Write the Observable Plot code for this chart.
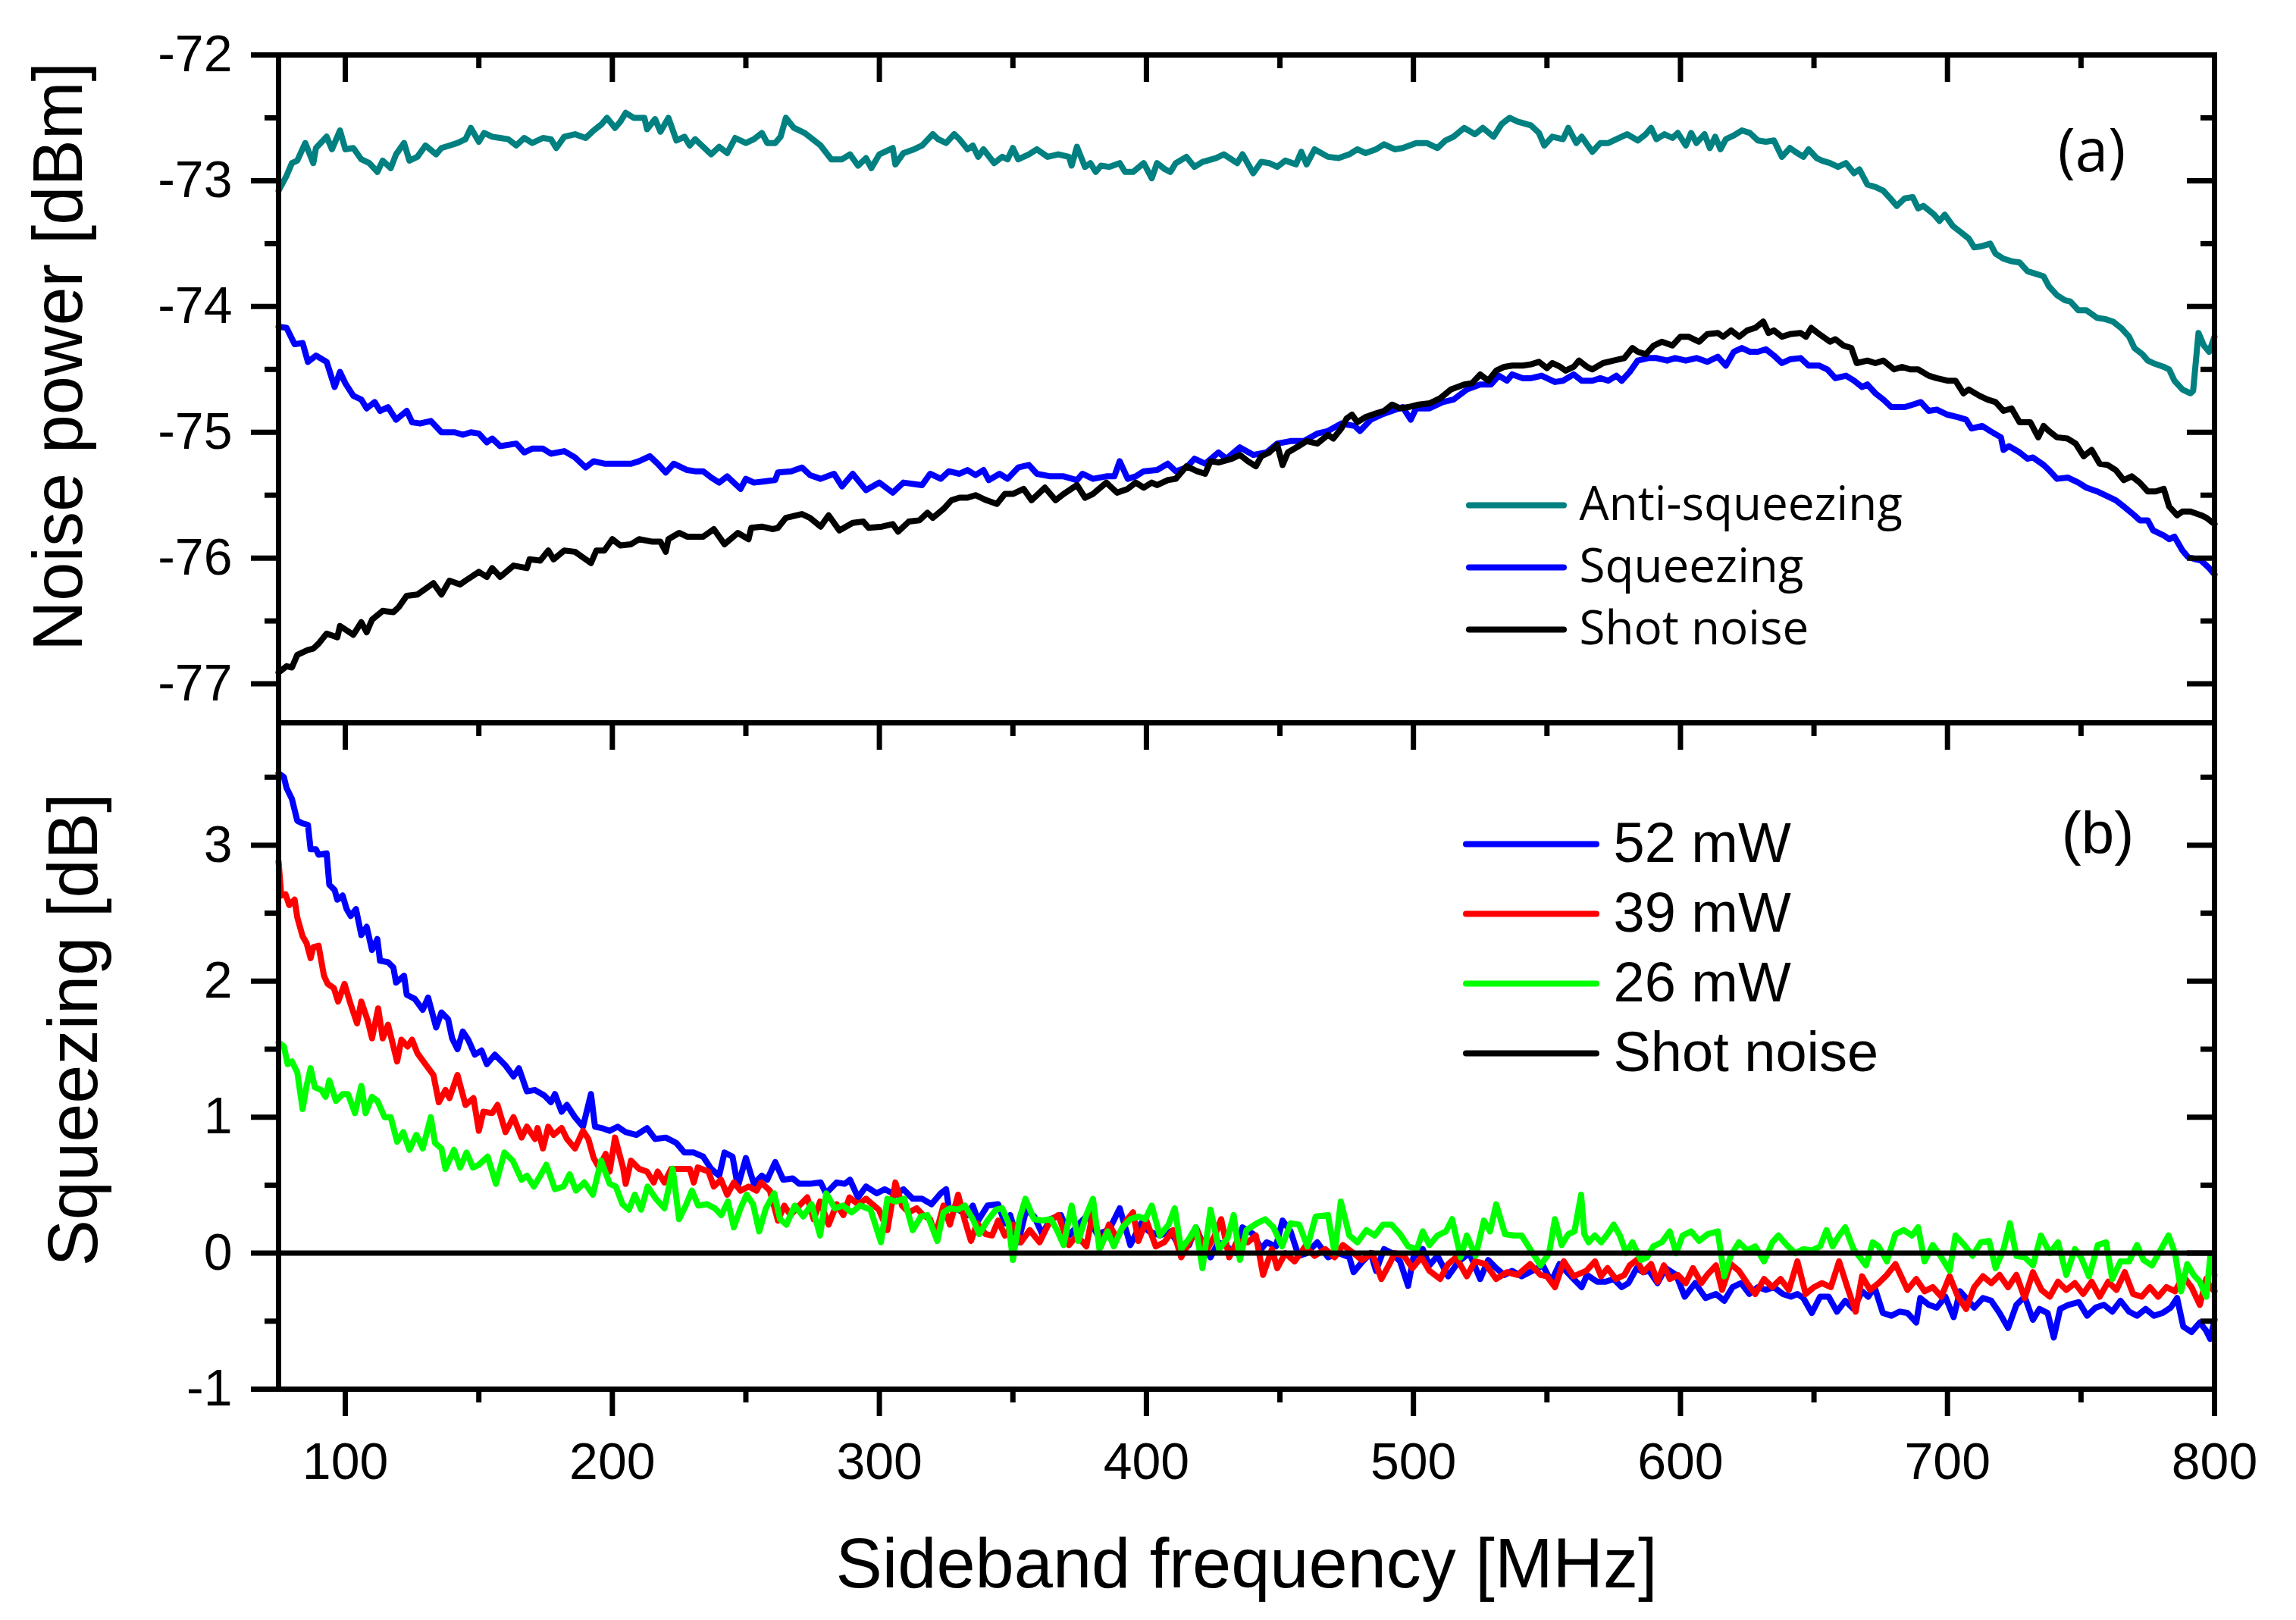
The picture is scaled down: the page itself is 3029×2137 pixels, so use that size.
<!DOCTYPE html>
<html><head><meta charset="utf-8">
<script src="https://cdn.jsdelivr.net/npm/d3@7"></script>
<script src="https://cdn.jsdelivr.net/npm/@observablehq/plot@0.6"></script>
<style>
html,body{margin:0;padding:0;background:#fff;overflow:hidden}
#chart{position:relative;width:3029px;height:2137px;background:#fff}
#chart > div{position:absolute;left:0}
</style></head><body><div id="chart"></div>
<script>
// ---------- data (frequency MHz, value) ----------
const antiSqueezing = [[75,-73.08],[78,-72.96],[80,-72.86],[82,-72.84],[85,-72.70],[88,-72.86],[89,-72.74],[93,-72.65],[95,-72.75],[98,-72.60],[100,-72.75],[103,-72.74],[106,-72.83],[109,-72.86],[112,-72.93],[114,-72.84],[117,-72.90],[119,-72.79],[122,-72.70],[124,-72.84],[127,-72.81],[130,-72.72],[134,-72.79],[136,-72.74],[139,-72.72],[142,-72.70],[145,-72.67],[147,-72.58],[150,-72.69],[152,-72.62],[155,-72.65],[158,-72.66],[161,-72.67],[164,-72.72],[167,-72.66],[170,-72.70],[174,-72.66],[177,-72.67],[179,-72.74],[182,-72.65],[186,-72.63],[190,-72.66],[193,-72.60],[196,-72.55],[198,-72.50],[201,-72.58],[203,-72.53],[205,-72.46],[208,-72.50],[212,-72.50],[213,-72.59],[216,-72.51],[218,-72.61],[221,-72.50],[224,-72.68],[227,-72.65],[229,-72.72],[231,-72.67],[234,-72.73],[237,-72.79],[240,-72.73],[243,-72.78],[246,-72.66],[250,-72.70],[253,-72.67],[256,-72.62],[258,-72.70],[261,-72.70],[263,-72.65],[265,-72.50],[268,-72.58],[272,-72.62],[275,-72.67],[278,-72.72],[282,-72.83],[286,-72.83],[289,-72.79],[292,-72.88],[295,-72.82],[297,-72.90],[300,-72.79],[305,-72.74],[306,-72.87],[309,-72.78],[313,-72.75],[316,-72.72],[320,-72.63],[322,-72.67],[325,-72.70],[328,-72.63],[330,-72.67],[333,-72.75],[335,-72.72],[337,-72.81],[339,-72.75],[343,-72.86],[346,-72.81],[348,-72.83],[350,-72.74],[352,-72.83],[356,-72.79],[359,-72.75],[363,-72.81],[367,-72.79],[371,-72.81],[372,-72.88],[374,-72.73],[377,-72.89],[379,-72.86],[381,-72.93],[383,-72.88],[386,-72.89],[390,-72.86],[392,-72.93],[395,-72.93],[399,-72.86],[402,-72.98],[404,-72.86],[407,-72.91],[409,-72.93],[411,-72.86],[415,-72.81],[418,-72.89],[421,-72.85],[426,-72.82],[429,-72.79],[434,-72.86],[436,-72.79],[440,-72.94],[443,-72.85],[446,-72.86],[449,-72.89],[452,-72.84],[456,-72.87],[458,-72.77],[460,-72.87],[463,-72.75],[468,-72.81],[472,-72.82],[476,-72.79],[479,-72.75],[482,-72.78],[486,-72.75],[489,-72.71],[493,-72.75],[496,-72.74],[501,-72.70],[505,-72.70],[509,-72.74],[512,-72.68],[515,-72.65],[519,-72.58],[523,-72.63],[526,-72.58],[530,-72.65],[533,-72.55],[536,-72.50],[539,-72.53],[544,-72.56],[547,-72.62],[549,-72.72],[552,-72.65],[556,-72.67],[558,-72.58],[561,-72.70],[563,-72.65],[567,-72.77],[570,-72.70],[573,-72.70],[576,-72.67],[580,-72.63],[584,-72.68],[587,-72.63],[589,-72.58],[591,-72.67],[594,-72.63],[597,-72.66],[599,-72.62],[602,-72.72],[604,-72.62],[606,-72.70],[609,-72.63],[611,-72.74],[613,-72.65],[615,-72.75],[617,-72.67],[620,-72.64],[623,-72.60],[626,-72.62],[629,-72.68],[632,-72.69],[635,-72.68],[638,-72.81],[641,-72.74],[643,-72.77],[646,-72.81],[648,-72.75],[651,-72.82],[653,-72.84],[656,-72.86],[659,-72.89],[662,-72.86],[665,-72.94],[667,-72.91],[670,-73.03],[673,-73.05],[676,-73.08],[679,-73.15],[681,-73.20],[684,-73.14],[687,-73.13],[689,-73.22],[691,-73.20],[695,-73.27],[697,-73.32],[699,-73.27],[702,-73.36],[705,-73.41],[708,-73.46],[710,-73.53],[713,-73.52],[716,-73.50],[718,-73.58],[721,-73.62],[724,-73.64],[727,-73.65],[730,-73.72],[733,-73.74],[736,-73.76],[738,-73.84],[741,-73.91],[744,-73.95],[746,-73.96],[749,-74.03],[752,-74.03],[756,-74.09],[759,-74.10],[762,-74.12],[765,-74.17],[768,-74.24],[770,-74.33],[773,-74.38],[775,-74.43],[777,-74.45],[781,-74.48],[783,-74.50],[785,-74.59],[788,-74.66],[791,-74.69],[792,-74.67],[794,-74.21],[796,-74.31],[798,-74.36],[800,-74.24]];

const squeezingA = [[75,-74.16],[78,-74.17],[81,-74.30],[84,-74.29],[86,-74.44],[89,-74.39],[93,-74.44],[96,-74.64],[98,-74.52],[100,-74.61],[103,-74.71],[106,-74.74],[108,-74.81],[111,-74.76],[113,-74.83],[116,-74.80],[119,-74.90],[123,-74.83],[125,-74.92],[128,-74.93],[132,-74.91],[136,-75.00],[141,-75.00],[144,-75.02],[147,-75.00],[150,-75.01],[153,-75.08],[155,-75.05],[158,-75.11],[164,-75.09],[167,-75.16],[170,-75.13],[174,-75.13],[177,-75.17],[182,-75.15],[186,-75.20],[190,-75.28],[193,-75.23],[197,-75.25],[202,-75.25],[207,-75.25],[210,-75.23],[214,-75.19],[217,-75.25],[220,-75.32],[223,-75.25],[228,-75.30],[231,-75.31],[234,-75.31],[237,-75.36],[240,-75.40],[243,-75.35],[248,-75.45],[250,-75.37],[253,-75.40],[257,-75.39],[261,-75.38],[262,-75.32],[267,-75.31],[271,-75.28],[274,-75.34],[278,-75.37],[283,-75.33],[286,-75.43],[290,-75.33],[295,-75.46],[300,-75.40],[305,-75.48],[309,-75.40],[316,-75.42],[319,-75.33],[323,-75.37],[326,-75.31],[330,-75.33],[333,-75.30],[336,-75.34],[339,-75.30],[341,-75.38],[345,-75.33],[348,-75.37],[352,-75.28],[356,-75.26],[359,-75.33],[364,-75.35],[369,-75.35],[374,-75.38],[376,-75.33],[380,-75.37],[385,-75.35],[388,-75.35],[390,-75.23],[393,-75.37],[396,-75.35],[399,-75.31],[404,-75.30],[408,-75.25],[411,-75.31],[415,-75.28],[418,-75.21],[422,-75.25],[427,-75.16],[430,-75.21],[435,-75.12],[440,-75.18],[445,-75.16],[449,-75.09],[454,-75.07],[459,-75.07],[464,-75.01],[468,-74.99],[473,-74.93],[478,-74.95],[480,-74.99],[484,-74.90],[488,-74.86],[492,-74.83],[496,-74.80],[499,-74.90],[501,-74.81],[506,-74.81],[511,-74.76],[515,-74.74],[520,-74.66],[525,-74.62],[529,-74.62],[532,-74.55],[535,-74.59],[537,-74.54],[541,-74.57],[544,-74.57],[548,-74.55],[553,-74.60],[556,-74.59],[560,-74.54],[563,-74.59],[567,-74.59],[570,-74.57],[573,-74.59],[576,-74.55],[578,-74.59],[581,-74.52],[584,-74.43],[588,-74.41],[591,-74.41],[595,-74.43],[598,-74.41],[602,-74.43],[606,-74.41],[610,-74.44],[614,-74.40],[617,-74.47],[620,-74.36],[623,-74.33],[626,-74.36],[629,-74.36],[632,-74.34],[635,-74.39],[638,-74.45],[641,-74.42],[645,-74.41],[648,-74.47],[652,-74.47],[655,-74.50],[658,-74.57],[662,-74.55],[665,-74.59],[668,-74.64],[670,-74.62],[673,-74.69],[676,-74.74],[679,-74.80],[684,-74.80],[687,-74.78],[690,-74.76],[693,-74.83],[696,-74.82],[700,-74.86],[704,-74.88],[707,-74.90],[709,-74.97],[713,-74.95],[716,-74.99],[720,-75.04],[721,-75.14],[723,-75.11],[727,-75.16],[730,-75.21],[732,-75.20],[736,-75.26],[738,-75.30],[741,-75.37],[745,-75.36],[749,-75.40],[752,-75.44],[756,-75.47],[759,-75.50],[763,-75.54],[766,-75.59],[770,-75.66],[772,-75.70],[775,-75.70],[777,-75.78],[781,-75.82],[783,-75.85],[785,-75.83],[788,-75.94],[790,-75.99],[793,-76.01],[795,-76.02],[798,-76.08],[800,-76.13]];

const shotNoiseA = [[75,-76.91],[78,-76.86],[80,-76.87],[82,-76.77],[86,-76.73],[88,-76.72],[90,-76.68],[93,-76.60],[97,-76.63],[98,-76.54],[103,-76.61],[106,-76.51],[108,-76.59],[110,-76.49],[114,-76.42],[118,-76.43],[120,-76.39],[123,-76.30],[127,-76.29],[133,-76.20],[136,-76.29],[139,-76.18],[143,-76.21],[145,-76.18],[150,-76.11],[153,-76.15],[155,-76.08],[158,-76.15],[163,-76.06],[168,-76.08],[169,-76.01],[173,-76.02],[176,-75.94],[178,-76.01],[182,-75.94],[186,-75.95],[192,-76.04],[194,-75.94],[197,-75.94],[200,-75.85],[203,-75.90],[207,-75.89],[210,-75.85],[215,-75.87],[218,-75.87],[220,-75.95],[221,-75.85],[225,-75.80],[228,-75.83],[234,-75.83],[238,-75.77],[242,-75.89],[247,-75.80],[251,-75.85],[252,-75.76],[256,-75.75],[260,-75.77],[262,-75.76],[265,-75.68],[271,-75.65],[274,-75.68],[278,-75.75],[281,-75.66],[285,-75.78],[290,-75.72],[294,-75.71],[296,-75.76],[301,-75.75],[305,-75.73],[307,-75.79],[311,-75.71],[315,-75.70],[318,-75.64],[320,-75.68],[324,-75.61],[327,-75.54],[330,-75.52],[333,-75.52],[336,-75.50],[340,-75.54],[344,-75.57],[347,-75.49],[350,-75.49],[354,-75.45],[357,-75.54],[362,-75.44],[366,-75.54],[369,-75.49],[374,-75.42],[377,-75.52],[380,-75.49],[385,-75.40],[389,-75.48],[393,-75.45],[396,-75.40],[399,-75.44],[402,-75.40],[404,-75.42],[408,-75.38],[411,-75.37],[415,-75.27],[419,-75.31],[422,-75.33],[424,-75.23],[427,-75.24],[432,-75.21],[435,-75.18],[438,-75.23],[441,-75.27],[443,-75.19],[446,-75.16],[449,-75.10],[451,-75.26],[453,-75.16],[457,-75.11],[460,-75.07],[464,-75.09],[468,-75.02],[470,-75.05],[473,-74.97],[475,-74.89],[477,-74.86],[479,-74.92],[482,-74.88],[486,-74.85],[489,-74.83],[492,-74.78],[495,-74.81],[498,-74.80],[502,-74.78],[506,-74.77],[510,-74.73],[514,-74.66],[519,-74.62],[522,-74.61],[525,-74.54],[528,-74.59],[531,-74.51],[534,-74.48],[537,-74.47],[541,-74.47],[544,-74.46],[547,-74.44],[550,-74.49],[552,-74.45],[555,-74.48],[557,-74.51],[560,-74.48],[562,-74.43],[565,-74.48],[567,-74.50],[571,-74.45],[575,-74.43],[579,-74.41],[582,-74.33],[584,-74.36],[587,-74.38],[590,-74.31],[593,-74.28],[597,-74.31],[600,-74.24],[603,-74.24],[607,-74.28],[610,-74.22],[614,-74.21],[616,-74.24],[619,-74.19],[622,-74.24],[625,-74.19],[628,-74.17],[631,-74.12],[633,-74.21],[635,-74.19],[638,-74.24],[641,-74.22],[645,-74.21],[647,-74.24],[649,-74.17],[652,-74.22],[656,-74.28],[658,-74.26],[661,-74.31],[664,-74.33],[666,-74.45],[670,-74.43],[673,-74.45],[676,-74.43],[680,-74.50],[683,-74.48],[686,-74.50],[689,-74.50],[693,-74.55],[696,-74.57],[700,-74.59],[703,-74.59],[706,-74.69],[708,-74.66],[712,-74.71],[715,-74.74],[718,-74.76],[721,-74.83],[724,-74.81],[727,-74.92],[731,-74.92],[734,-75.04],[736,-74.95],[738,-74.99],[741,-75.04],[745,-75.05],[748,-75.09],[751,-75.19],[754,-75.14],[757,-75.25],[760,-75.26],[763,-75.30],[766,-75.38],[769,-75.35],[772,-75.40],[775,-75.47],[778,-75.47],[781,-75.45],[783,-75.59],[786,-75.66],[788,-75.63],[791,-75.63],[795,-75.66],[797,-75.68],[800,-75.73]];

const pump52 = [[75,3.53],[77,3.50],[78,3.42],[80,3.34],[81,3.26],[82,3.18],[84,3.16],[86,3.15],[87,2.97],[89,2.97],[90,2.93],[93,2.94],[94,2.71],[96,2.67],[97,2.60],[99,2.63],[100.5,2.53],[102,2.48],[104,2.53],[106,2.34],[108,2.40],[110,2.23],[112,2.31],[113,2.15],[116,2.14],[118,2.10],[119,1.99],[122,2.04],[123,1.90],[126,1.87],[129,1.79],[131,1.88],[134,1.66],[136,1.77],[138.5,1.72],[140,1.58],[142,1.50],[144,1.63],[146,1.57],[148.5,1.46],[151,1.49],[153,1.39],[156,1.46],[160,1.38],[163,1.30],[165,1.36],[168,1.19],[171,1.20],[174.5,1.16],[177,1.11],[178.5,1.17],[181,1.04],[183,1.09],[186,1.00],[189,0.93],[192,1.17],[193.5,0.93],[196,0.92],[199,0.90],[202,0.93],[205,0.89],[209,0.87],[213,0.92],[216,0.84],[220,0.85],[224,0.81],[227,0.74],[230.5,0.74],[234,0.71],[237,0.62],[240,0.57],[242,0.74],[245,0.71],[247,0.49],[250,0.70],[253,0.51],[256,0.57],[258,0.54],[261,0.67],[264,0.54],[267.5,0.55],[270,0.51],[274,0.51],[278,0.52],[280,0.44],[284,0.52],[287,0.51],[289,0.54],[292,0.41],[295,0.49],[299,0.44],[302,0.47],[306,0.43],[309,0.47],[312.5,0.40],[316,0.40],[319.5,0.36],[323,0.44],[325,0.47],[326,0.33],[329.5,0.32],[333,0.28],[335,0.35],[337,0.24],[340.5,0.35],[344.5,0.36],[347,0.22],[349,0.28],[352,0.08],[355,0.32],[358,0.27],[361,0.14],[364,0.25],[368,0.28],[371,0.13],[375,0.22],[378,0.28],[381.5,0.14],[386,0.17],[390,0.33],[394,0.06],[398,0.22],[401,0.16],[405,0.13],[409,0.16],[413,0.03],[416,0.06],[418.5,0.19],[421.6,0.05],[424,-0.03],[427,0.08],[430,0.05],[433.5,0.00],[436,0.19],[440,0.14],[443,0.03],[445,0.08],[448.5,0.05],[451,0.24],[454,0.16],[457,-0.02],[460,0.00],[464,0.08],[468,-0.03],[472,0.00],[476,-0.03],[477.6,-0.14],[481,-0.06],[484,0.00],[486,-0.13],[489,0.03],[492,0.00],[495,-0.06],[498,-0.24],[500,-0.03],[503.5,0.03],[506,-0.09],[509,-0.02],[513,-0.17],[517,-0.06],[521,0.00],[525,-0.19],[528,-0.05],[531,-0.11],[534,-0.16],[537,-0.13],[540.5,-0.17],[544.5,-0.13],[548.5,-0.09],[551.6,-0.21],[554.7,-0.08],[559,-0.17],[563,-0.25],[565,-0.16],[568.8,-0.21],[572,-0.21],[575,-0.19],[578,-0.25],[580.5,-0.22],[583.6,-0.11],[586,-0.14],[588.3,-0.13],[591.4,-0.22],[594.5,-0.11],[598.4,-0.16],[601.6,-0.32],[605.5,-0.22],[609.4,-0.33],[613.3,-0.30],[616.4,-0.35],[619.5,-0.25],[622.7,-0.22],[625.8,-0.30],[629,-0.25],[632,-0.27],[635,-0.25],[638.3,-0.30],[641.4,-0.32],[643.8,-0.30],[646,-0.33],[649.2,-0.44],[652.3,-0.32],[655.5,-0.32],[658.6,-0.43],[661.7,-0.35],[664.8,-0.41],[668,-0.28],[670.3,-0.32],[672.7,-0.25],[675.8,-0.44],[679,-0.46],[682,-0.43],[685,-0.44],[688.3,-0.51],[689.8,-0.33],[693,-0.38],[696,-0.40],[699.2,-0.32],[702.3,-0.47],[704.7,-0.28],[707,-0.33],[710,-0.40],[713.3,-0.33],[716.4,-0.35],[719.5,-0.44],[722.7,-0.55],[725.8,-0.38],[728.9,-0.32],[732,-0.49],[734.4,-0.41],[737.5,-0.44],[739.8,-0.62],[742.2,-0.41],[745.3,-0.38],[749.2,-0.36],[752.3,-0.46],[755.5,-0.40],[758.6,-0.38],[761.7,-0.43],[764.8,-0.35],[768,-0.43],[771,-0.46],[774.2,-0.41],[777.3,-0.46],[780.5,-0.44],[783.6,-0.40],[786,-0.33],[788.3,-0.54],[791.4,-0.58],[794.5,-0.51],[796.9,-0.57],[798.4,-0.63],[800,-0.49]];

const pump39 = [[75,2.88],[76,2.63],[77.6,2.64],[79,2.56],[81,2.60],[82,2.47],[84,2.33],[85.5,2.28],[87,2.17],[88,2.25],[90,2.26],[92,2.04],[93.4,1.98],[95.7,1.95],[97.3,1.85],[99.7,1.98],[102,1.83],[104.4,1.69],[106,1.85],[108.4,1.71],[110,1.58],[112.3,1.80],[114,1.58],[116,1.68],[119.4,1.41],[121,1.57],[123.3,1.52],[125,1.57],[127,1.47],[130,1.39],[133,1.31],[135,1.11],[137.5,1.20],[139,1.14],[142,1.31],[145,1.09],[148,1.14],[150,0.90],[151.7,1.04],[155,1.03],[157,1.09],[160,0.89],[163,1.00],[166,0.85],[168,0.93],[171,0.84],[172,0.92],[174,0.77],[176,0.93],[178,0.87],[181,0.92],[183,0.84],[186,0.77],[189,0.90],[191,0.84],[193,0.70],[195,0.63],[197.5,0.73],[199,0.60],[201,0.85],[204,0.63],[205,0.51],[207,0.68],[210,0.62],[213,0.60],[215.5,0.52],[217,0.60],[219.5,0.52],[222,0.62],[226,0.62],[229,0.62],[230.5,0.52],[232,0.63],[236,0.60],[238,0.49],[240.7,0.54],[243,0.43],[245.5,0.52],[248,0.46],[251,0.49],[254,0.46],[255.7,0.52],[259,0.46],[262,0.24],[264.4,0.35],[266.7,0.28],[270,0.35],[273,0.41],[275.4,0.25],[277.8,0.38],[281,0.21],[284,0.36],[286.5,0.28],[288.8,0.41],[292,0.36],[295,0.40],[299.8,0.32],[303,0.17],[306,0.52],[308.5,0.35],[311,0.30],[314,0.33],[316.4,0.28],[319,0.25],[321,0.13],[324,0.35],[326.4,0.21],[329.5,0.43],[332,0.24],[334.3,0.09],[336.6,0.22],[339.8,0.14],[342.2,0.13],[344.5,0.24],[347,0.13],[350,0.21],[353,0.08],[356.3,0.17],[360,0.08],[364,0.24],[367,0.28],[371,0.06],[374,0.13],[377.5,0.05],[380,0.30],[383,0.05],[386,0.21],[389,0.11],[392.5,0.24],[395,0.30],[397,0.09],[400,0.24],[403.5,0.05],[406.7,0.08],[410,0.17],[413,-0.03],[416,0.08],[419,0.17],[422,0.00],[425.6,0.13],[428,0.25],[431,-0.03],[434,0.09],[438,0.08],[441,0.13],[443.7,-0.16],[447,0.03],[449,-0.11],[452,0.00],[455.5,-0.06],[459.5,0.05],[463,-0.02],[467,0.03],[470.5,-0.03],[473.6,0.06],[477.6,0.00],[480.7,-0.05],[484.6,0.00],[488,-0.19],[491,-0.08],[493,0.00],[496.5,-0.02],[499.6,-0.11],[503,-0.03],[506,-0.13],[510,-0.19],[513,-0.08],[516,-0.03],[520,-0.17],[523,-0.06],[527,-0.08],[531,-0.19],[535,-0.14],[539,-0.16],[543.7,-0.08],[547.6,-0.16],[550,-0.17],[553,-0.25],[556.3,-0.06],[560,-0.17],[564.7,-0.13],[568,-0.06],[570.3,-0.17],[572.7,-0.11],[575.8,-0.19],[579,-0.16],[581,-0.09],[583.6,-0.05],[586,-0.14],[589,-0.08],[591.4,-0.21],[593.8,-0.09],[596,-0.19],[599,-0.16],[602,-0.22],[604.7,-0.11],[607.8,-0.22],[610,-0.16],[613.3,-0.09],[615.6,-0.27],[618.8,-0.08],[621.9,-0.13],[625,-0.22],[628,-0.30],[631.3,-0.19],[634.4,-0.25],[637.5,-0.19],[640.6,-0.27],[643.8,-0.06],[646.9,-0.30],[650,-0.25],[653,-0.22],[656.3,-0.25],[659.4,-0.06],[662.5,-0.25],[665.6,-0.43],[668,-0.17],[671,-0.27],[674.2,-0.22],[677.3,-0.16],[680.5,-0.08],[683.6,-0.21],[685,-0.27],[688.3,-0.19],[691.4,-0.28],[694.5,-0.25],[697.7,-0.32],[700.8,-0.17],[703.9,-0.32],[707,-0.41],[710,-0.25],[713.3,-0.17],[716.4,-0.22],[719.5,-0.16],[722.7,-0.25],[725.8,-0.16],[728.9,-0.33],[732,-0.14],[735.2,-0.27],[738.3,-0.32],[741.4,-0.21],[744.5,-0.27],[747.7,-0.22],[750.8,-0.30],[754,-0.21],[757,-0.32],[760.2,-0.21],[763.3,-0.27],[766.4,-0.14],[769.5,-0.30],[772.7,-0.32],[775.8,-0.25],[778.9,-0.32],[782,-0.25],[785.2,-0.28],[788.3,-0.17],[791.4,-0.25],[794.5,-0.38],[796.9,-0.19],[798.4,-0.25],[800,-0.28]];

const pump26 = [[75,1.55],[77,1.52],[78.4,1.39],[80,1.41],[82,1.33],[84,1.06],[85.5,1.23],[87,1.36],[88.6,1.22],[91,1.20],[92.6,1.15],[94,1.27],[96.5,1.12],[99,1.17],[101,1.17],[103.6,1.03],[106,1.23],[107.6,1.03],[110,1.15],[112,1.12],[114.7,1.00],[117,1.00],[119.4,0.82],[121.7,0.89],[124,0.76],[126.6,0.87],[129,0.77],[132,1.00],[133.6,0.81],[136,0.77],[137.5,0.62],[140.7,0.76],[143,0.63],[145.4,0.74],[147.8,0.63],[150,0.65],[153.3,0.71],[156.4,0.51],[159.6,0.74],[162.7,0.68],[166,0.54],[168,0.57],[170.6,0.49],[173,0.57],[175.3,0.65],[178.5,0.47],[181.7,0.49],[184,0.58],[186.4,0.46],[189.5,0.52],[192.7,0.43],[195.8,0.68],[199,0.51],[201.3,0.49],[203.8,0.36],[206.2,0.32],[208.4,0.43],[210.8,0.32],[213.2,0.49],[216.3,0.40],[219.5,0.33],[222.6,0.62],[225,0.25],[227.5,0.35],[229.8,0.46],[232.2,0.35],[235.4,0.36],[238.4,0.33],[240.8,0.28],[243.3,0.38],[245.5,0.19],[248,0.33],[250.3,0.43],[252.7,0.36],[255,0.16],[257.5,0.33],[260.6,0.44],[262.8,0.25],[265.2,0.21],[268.3,0.35],[271.5,0.27],[274.6,0.36],[277.8,0.13],[280.1,0.44],[283.3,0.33],[286.4,0.35],[289.6,0.30],[292.8,0.35],[296.7,0.32],[300.6,0.08],[303,0.40],[306.1,0.38],[309.3,0.40],[312.5,0.17],[315.6,0.27],[318,0.28],[321.7,0.09],[324,0.30],[326.4,0.33],[329.5,0.32],[332,0.35],[335,0.25],[337.4,0.14],[340.5,0.24],[343.7,0.32],[346,0.33],[348.4,0.22],[350,-0.05],[352.4,0.25],[354.7,0.40],[357.9,0.25],[361,0.24],[364.2,0.25],[366.5,0.17],[369,0.06],[372,0.35],[374.5,0.09],[377.5,0.28],[380,0.40],[382.4,0.03],[385.5,0.16],[387.8,0.05],[391,0.19],[394,0.25],[397.2,0.27],[399.6,0.25],[402,0.35],[405,0.13],[408.3,0.21],[410.6,0.33],[413,0.03],[416.1,0.11],[418.5,0.19],[421,-0.11],[424,0.32],[427.2,0.03],[430.4,0.11],[432.7,0.28],[435,-0.05],[437.5,0.17],[441.4,0.22],[444.5,0.25],[447.6,0.19],[450.8,0.05],[454,0.22],[457.2,0.21],[460.3,0.05],[463.4,0.27],[468,0.28],[470.5,0.00],[472.8,0.38],[476,0.13],[479,0.08],[482.4,0.17],[485.5,0.13],[488.6,0.21],[491.8,0.21],[495,0.14],[498,0.05],[501.3,0.03],[503.5,0.16],[506,0.06],[509,0.13],[512.2,0.16],[514.5,0.25],[517.7,-0.03],[520,0.13],[523.3,-0.02],[526.4,0.24],[528.7,0.16],[531,0.36],[534.3,0.14],[537.4,0.13],[540.5,0.13],[543.7,0.03],[547.6,-0.09],[550.8,0.00],[553,0.25],[555.5,0.06],[558,0.14],[560.3,0.16],[562.8,0.43],[564,0.14],[565.6,0.08],[567.9,0.13],[570.3,0.08],[572.7,0.14],[575,0.21],[577.3,0.13],[579.7,0.00],[582,0.08],[585.2,-0.05],[587.5,-0.03],[589.8,0.05],[593,0.08],[596,0.16],[598.4,0.00],[600.8,0.13],[604,0.16],[607,0.09],[610.2,0.14],[614,0.16],[616.4,-0.17],[618.8,-0.02],[621.9,0.08],[625,0.02],[628,0.05],[631.3,-0.06],[634.4,0.08],[636.7,0.13],[639.8,0.06],[643,0.00],[646,0.03],[649.2,0.02],[652.3,0.05],[654.7,0.17],[657,0.05],[659.4,0.13],[661.7,0.19],[664.8,0.03],[667.2,-0.03],[669.5,-0.09],[672,0.08],[674.2,0.05],[677.3,-0.06],[680.5,0.14],[683.6,0.17],[686.7,0.13],[689,0.19],[691.4,-0.06],[694.5,0.06],[697.7,-0.03],[700.8,-0.13],[703,0.13],[706.3,0.06],[709.4,-0.02],[712.5,0.08],[715.6,0.09],[718,-0.11],[721,0.03],[723.4,0.22],[725.8,-0.02],[728.9,-0.03],[732,-0.09],[735,0.13],[738.3,0.00],[741.4,0.08],[744.5,-0.16],[747.7,0.03],[750,-0.03],[753,-0.17],[756.3,0.06],[759.4,0.08],[761.7,-0.19],[764.8,-0.06],[768,-0.06],[771,0.06],[773.4,-0.05],[776.6,-0.09],[779.7,0.02],[782.8,0.13],[785.2,0.00],[787.5,-0.28],[789.8,-0.08],[792.2,-0.16],[794.5,-0.21],[796.9,-0.32],[798.4,-0.03],[800,-0.16]];

const shotNoiseB = [0];

// ---------- ticks & labels ----------
const freqTicks = [100, 200, 300, 400, 500, 600, 700, 800];
const freqMinor = [150, 250, 350, 450, 550, 650, 750];
const noiseTicks = [-77, -76, -75, -74, -73, -72];
const noiseMinor = [-76.5, -75.5, -74.5, -73.5, -72.5];
const sqzTicks = [-1, 0, 1, 2, 3];
const sqzMinor = [-0.5, 0.5, 1.5, 2.5, 3.5];
const legendA = [
  {label: "Anti-squeezing", color: "#008080"},
  {label: "Squeezing", color: "#0000ff"},
  {label: "Shot noise", color: "#000000"}
];
const legendB = [
  {label: "52 mW", color: "#0000ff"},
  {label: "39 mW", color: "#ff0000"},
  {label: "26 mW", color: "#00ff00"},
  {label: "Shot noise", color: "#000000"}
];

// ---------- layout ----------
const W = 3029, H = 2137;
const ML = 367, MR = 108, TOP = 72, MID = 953, BOT = 1832;
const SANS = "'Liberation Sans', Arial, sans-serif";
const OPEN = "'Open Sans', 'Noto Sans', sans-serif";
const AX = 7, LW = 8, TMAJ = 36, TMIN = 18;
const svgStyle = {background: "none", overflow: "visible", fontFamily: SANS};
const X = d => d[0], Y = d => d[1];

function frameTicks(yMajor, yMinor) {
  return [
    Plot.axisY(yMajor, {anchor: "left", tickSize: TMAJ, tickPadding: 25, strokeWidth: AX, fontSize: 68, tickFormat: d => String(d), label: null}),
    Plot.axisY(yMinor, {anchor: "left", tickSize: TMIN, strokeWidth: AX, fill: "none", tickFormat: () => "", label: null}),
    Plot.axisY(yMajor, {anchor: "left", frameAnchor: "right", tickSize: TMAJ, strokeWidth: AX, fill: "none", tickFormat: () => "", label: null}),
    Plot.axisY(yMinor, {anchor: "left", frameAnchor: "right", tickSize: TMIN, strokeWidth: AX, fill: "none", tickFormat: () => "", label: null}),
    Plot.axisX(freqTicks, {anchor: "bottom", frameAnchor: "top", tickSize: TMAJ, strokeWidth: AX, fill: "none", tickFormat: () => "", label: null}),
    Plot.axisX(freqMinor, {anchor: "bottom", frameAnchor: "top", tickSize: TMIN, strokeWidth: AX, fill: "none", tickFormat: () => "", label: null})
  ];
}

const topPlot = Plot.plot({
  width: W, height: MID,
  marginLeft: ML, marginRight: MR, marginTop: TOP, marginBottom: 0,
  style: svgStyle,
  x: {domain: [75, 800], label: null},
  y: {domain: [-77.31, -72], label: null},
  marks: [
    Plot.line(antiSqueezing, {x: X, y: Y, stroke: "#008080", strokeWidth: LW}),
    Plot.line(squeezingA, {x: X, y: Y, stroke: "#0000ff", strokeWidth: LW}),
    Plot.line(shotNoiseA, {x: X, y: Y, stroke: "#000000", strokeWidth: LW}),
    ...frameTicks(noiseTicks, noiseMinor),
    Plot.frame({stroke: "black", strokeWidth: AX}),
    Plot.text(["Noise power [dBm]"], {text: d => d, frameAnchor: "left", dx: 78 - ML, dy: 470 - (TOP + MID) / 2, rotate: -90, fontSize: 92, fontFamily: SANS, textAnchor: "middle", lineAnchor: "middle"}),
    Plot.text(["(a)"], {text: d => d, frameAnchor: "top-right", dx: 2759 - (W - MR), dy: 201 - TOP, fontSize: 78, fontFamily: OPEN, textAnchor: "middle", lineAnchor: "middle"})
  ]
});

const bh = H - MID;
const botPlot = Plot.plot({
  width: W, height: bh,
  marginLeft: ML, marginRight: MR, marginTop: 0, marginBottom: H - BOT,
  style: svgStyle,
  x: {domain: [75, 800], label: null},
  y: {domain: [-1, 3.9], label: null},
  marks: [
    Plot.line(pump52, {x: X, y: Y, stroke: "#0000ff", strokeWidth: LW}),
    Plot.line(pump39, {x: X, y: Y, stroke: "#ff0000", strokeWidth: LW}),
    Plot.line(pump26, {x: X, y: Y, stroke: "#00ff00", strokeWidth: LW}),
    Plot.ruleY(shotNoiseB, {y: d => d, stroke: "#000000", strokeWidth: AX}),
    ...frameTicks(sqzTicks, sqzMinor),
    Plot.axisX(freqTicks, {anchor: "bottom", tickSize: TMAJ, tickPadding: 34, strokeWidth: AX, fontSize: 68, tickFormat: d => String(d), label: null}),
    Plot.axisX(freqMinor, {anchor: "bottom", tickSize: TMIN, strokeWidth: AX, fill: "none", tickFormat: () => "", label: null}),
    Plot.frame({stroke: "black", strokeWidth: AX}),
    Plot.text(["Squeezing [dB]"], {text: d => d, frameAnchor: "left", dx: 98 - ML, dy: 1358 - (MID + BOT) / 2, rotate: -90, fontSize: 92, fontFamily: SANS, textAnchor: "middle", lineAnchor: "middle"}),
    Plot.text(["Sideband frequency [MHz]"], {text: d => d, frameAnchor: "bottom", dy: 2064 - BOT, fontSize: 92, fontFamily: SANS, textAnchor: "middle", lineAnchor: "middle"}),
    Plot.text(["(b)"], {text: d => d, frameAnchor: "top-right", dx: 2767 - (W - MR), dy: 1101 - MID, fontSize: 78, fontFamily: SANS, textAnchor: "middle", lineAnchor: "middle"})
  ]
});

function legendPlot(items, {x1, x2, y1, y2, gap, fontSize, fontFamily}) {
  return Plot.plot({
    width: W, height: H, margin: 0,
    style: {background: "none", overflow: "visible", fontFamily},
    x: {domain: [0, 1], range: [x1, x2], axis: null},
    y: {type: "point", domain: items.map(d => d.label), range: [y1, y2], padding: 0, axis: null},
    marks: [
      ...items.map(d => Plot.ruleY([d.label], {y: v => v, x1: 0, x2: 1, stroke: d.color, strokeWidth: 8, strokeLinecap: "round"})),
      Plot.text(items, {x: 1, y: d => d.label, text: d => d.label, dx: gap, textAnchor: "start", lineAnchor: "middle", fontSize, fontFamily})
    ]
  });
}

const legTop = legendPlot(legendA, {x1: 1938, x2: 2063, y1: 666, y2: 830, gap: 20, fontSize: 62, fontFamily: OPEN});
const legBot = legendPlot(legendB, {x1: 1934, x2: 2106, y1: 1112, y2: 1389, gap: 22, fontSize: 74, fontFamily: SANS});

const chart = document.getElementById("chart");
function place(node, top) {
  const d = document.createElement("div");
  d.style.top = top + "px";
  d.appendChild(node);
  chart.appendChild(d);
}
place(topPlot, 0);
place(botPlot, MID);
place(legTop, 0);
place(legBot, 0);
</script>
</body></html>
